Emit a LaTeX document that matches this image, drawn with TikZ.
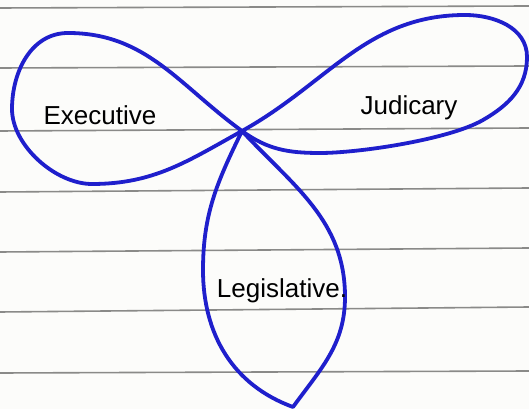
\documentclass[tikz,border=0pt]{standalone}
\usepackage{fontspec}
\setmainfont{Liberation Sans}
\usepackage{tikz}
\definecolor{pen}{HTML}{1F1FCC}
\definecolor{ruling}{HTML}{8A8A88}
\definecolor{paper}{HTML}{FCFCFA}

\begin{document}
\begin{tikzpicture}[
  x=1pt, y=1pt,
  rule/.style={draw=ruling, line width=1.6pt},
  petal/.style={draw=pen, line width=3.8pt, line join=round, line cap=round},
  lbl/.style={anchor=base, inner sep=0pt, font=\fontsize{26}{30}\selectfont}
]
  \useasboundingbox[fill=paper] (0,0) rectangle (529,409);

  % ruled paper
  \foreach \yl/\yr in {401/403, 341/343, 278/281, 217/221, 157/161, 97/102, 36/38}
    \draw[rule] (0,\yl) -- (529,\yr);

  \coordinate (hub) at (242,278);

  % Executive loop
  \coordinate (e1) at (68,376);
  \coordinate (e2) at (12,300);
  \coordinate (e3) at (92,225);
  \draw[petal] (hub) to[out=144,in=0] (e1) to[out=180,in=90] (e2)
    to[out=-90,in=180,looseness=0.85] (e3) to[out=0,in=209] (hub);

  % Judicary loop
  \coordinate (j1) at (465,394);
  \coordinate (j2) at (527,352);
  \coordinate (j3) at (483,289);
  \coordinate (j4) at (320,256);
  \draw[petal] (hub) to[out=29,in=180] (j1) to[out=0,in=90] (j2)
    to[out=-90,in=30] (j3) to[out=210,in=0,looseness=0.6] (j4)
    to[out=180,in=-36] (hub);

  % Legislative loop
  \coordinate (l1) at (203,139);
  \coordinate (l2) at (293,2);
  \coordinate (l3) at (345,112);
  \draw[petal] (hub) to[out=-116,in=90] (l1) to[out=-90,in=160] (l2)
    to[out=54,in=-90] (l3) to[out=90,in=-47] (hub);

  \node[lbl] (exec) at (100,284) {Executive};
  \node[lbl] (jud) at (409,294) {Judicary};
  \node[lbl] (leg) at (282,111) {Legislative.};
\end{tikzpicture}
\end{document}
